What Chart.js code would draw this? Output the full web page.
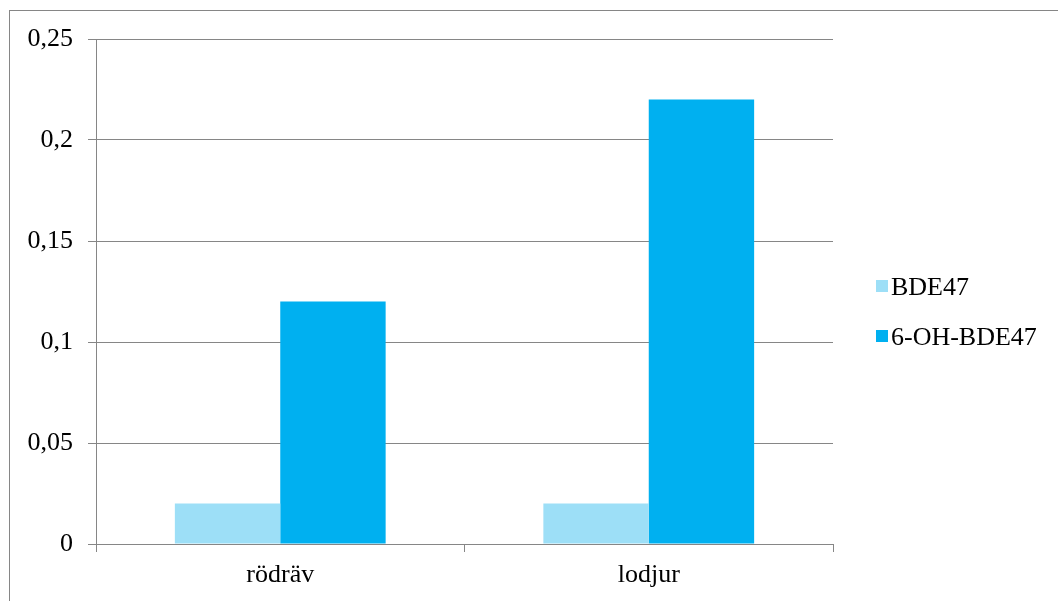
<!DOCTYPE html>
<html>
<head>
<meta charset="utf-8">
<script src="https://cdn.jsdelivr.net/npm/chart.js@4"></script>
<style>
  html, body { margin: 0; padding: 0; background: #fff; overflow: hidden; }
  #frame {
    position: absolute; left: 9px; top: 10px; width: 1100px; height: 650px;
    border: 1px solid #868686; box-sizing: border-box;
  }
  #wrap { position: absolute; left: 0; top: 0; width: 1058px; height: 601px; }
</style>
</head>
<body>
<div id="frame"></div>
<div id="wrap"><canvas id="c" width="1058" height="601"></canvas></div>
<script>
const categories = ["rödräv", "lodjur"];
const seriesNames = ["BDE47", "6-OH-BDE47"];
const bde47 = [0.02, 0.02];
const ohBde47 = [0.12, 0.22];
const yTicks = [0, 0.05, 0.1, 0.15, 0.2, 0.25];

const COLORS = ["#9DDFF7", "#00B0F0"];
const AXIS_GREY = "#868686";
const FONT = { family: "'Liberation Serif', 'Times New Roman', serif", size: 26 };

// comma decimal like the Swedish original
const fmt = (v) => String(Number(v.toFixed(2))).replace(".", ",");

// legend at the right, drawn by hand so it sits where the original does
const sideLegend = {
  id: "sideLegend",
  afterDraw(chart) {
    const ctx = chart.ctx;
    ctx.save();
    ctx.font = `${FONT.size}px ${FONT.family}`;
    ctx.textBaseline = "alphabetic";
    ctx.fillStyle = "#000";
    const baselines = [295, 345];
    chart.data.datasets.forEach((ds, i) => {
      const b = baselines[i];
      ctx.fillStyle = ds.backgroundColor;
      ctx.fillRect(876, b - 15, 12, 12);
      ctx.fillStyle = "#000";
      ctx.fillText(ds.label, 891, b);
    });
    ctx.restore();
  },
};

new Chart(document.getElementById("c"), {
  type: "bar",
  data: {
    labels: categories,
    datasets: [
      { label: seriesNames[0], data: bde47, backgroundColor: COLORS[0] },
      { label: seriesNames[1], data: ohBde47, backgroundColor: COLORS[1] },
    ],
  },
  options: {
    responsive: false,
    animation: false,
    events: [],
    categoryPercentage: 0.572,
    barPercentage: 1,
    layout: { padding: { top: 39, right: 225, bottom: 0, left: 0 } },
    plugins: { legend: { display: false }, tooltip: { enabled: false } },
    scales: {
      x: {
        grid: {
          offset: true, drawOnChartArea: false, tickLength: 8,
          color: AXIS_GREY, lineWidth: 1,
        },
        border: { color: AXIS_GREY, width: 1 },
        ticks: { color: "#000", font: FONT, padding: 8 },
        afterFit: (s) => { s.height = 57; },
      },
      y: {
        min: 0, max: 0.25,
        afterBuildTicks: (s) => { s.ticks = yTicks.map((v) => ({ value: v })); },
        grid: { color: AXIS_GREY, lineWidth: 1, tickLength: 8 },
        border: { color: AXIS_GREY, width: 1 },
        ticks: { color: "#000", font: FONT, padding: 15, callback: (v) => fmt(v) },
        afterFit: (s) => { s.width = 96; },
      },
    },
  },
  plugins: [sideLegend],
});
</script>
</body>
</html>
